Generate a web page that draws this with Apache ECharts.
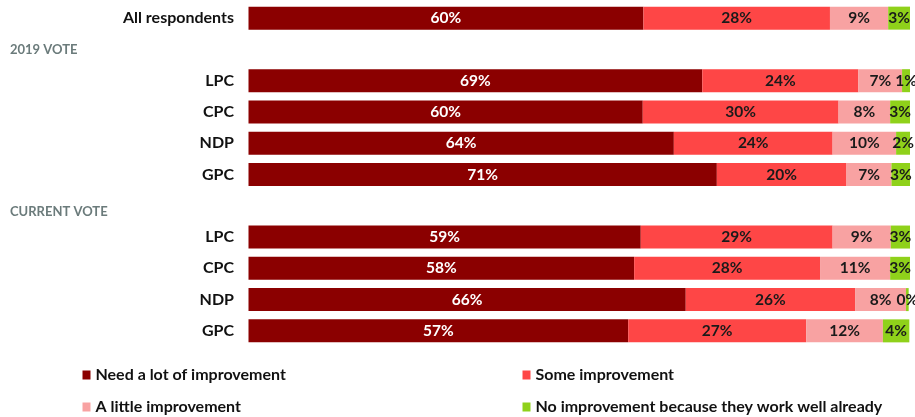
<!DOCTYPE html>
<html>
<head>
<meta charset="utf-8">
<script src="https://cdn.jsdelivr.net/npm/echarts@6/dist/echarts.min.js"></script>
<style>
html,body{margin:0;padding:0;background:#fff;}
#chart{width:915px;height:417px;}
</style>
</head>
<body>
<div id="chart"></div>
<script>
// Categories (headers are rows with no bars)
const categories = ['All respondents', '2019 VOTE', 'LPC', 'CPC', 'NDP', 'GPC', 'CURRENT VOTE', 'LPC', 'CPC', 'NDP', 'GPC'];
const headerRows = ['2019 VOTE', 'CURRENT VOTE'];
const seriesNames = ['Need a lot of improvement', 'Some improvement', 'A little improvement', 'No improvement because they work well already'];
// values (%); '-' = header row
const needALot   = [59.7, '-', 68.6, 59.6, 64.3, 70.8, '-', 59.3, 58.3, 66.1, 57.4];
const someImpr   = [28.2, '-', 23.6, 29.6, 24.0, 19.6, '-', 29.0, 28.1, 25.6, 26.9];
const littleImpr = [8.8,  '-', 6.6,  7.8,  9.6,  6.8,  '-', 8.8,  10.6, 7.7,  11.6];
const noImpr     = [3.3,  '-', 1.2,  3.0,  2.1,  2.9,  '-', 2.9,  3.1,  0.4,  4.0];

const colors = ['#8b0000', '#fe4646', '#f8a2a2', '#8fd11a'];
const labelColors = ['#ffffff', '#1a1a1a', '#1a1a1a', '#1a1a1a'];
const FONT = 'Lato, "Open Sans", sans-serif';

const chart = echarts.init(document.getElementById('chart'), null, {renderer: 'canvas'});

const allData = [needALot, someImpr, littleImpr, noImpr];
const series = allData.map((d, i) => ({
  name: seriesNames[i],
  type: 'bar',
  stack: 'total',
  data: d,
  barWidth: 23,
  itemStyle: {color: colors[i]},
  label: {
    show: true,
    position: 'inside',
    color: labelColors[i],
    fontFamily: FONT,
    fontWeight: 'bold',
    fontSize: 15.5,
    formatter: p => Math.round(p.value) + '%'
  },
  emphasis: {disabled: true}
}));

// legend key (2 columns x 2 rows), built from seriesNames/colors
const keyPos = [[82.5, 375], [522.5, 375], [82.5, 407], [522.5, 407]]; // [icon left, row centre]
const keyElems = [];
seriesNames.forEach((n, i) => {
  keyElems.push({
    type: 'rect', silent: true,
    shape: {x: keyPos[i][0], y: keyPos[i][1] - 4.5, width: 8, height: 9},
    style: {fill: colors[i]}
  });
  keyElems.push({
    type: 'text', silent: true,
    x: keyPos[i][0] + 13, y: keyPos[i][1],
    style: {text: n, fill: '#111111', font: 'bold 16px ' + FONT, verticalAlign: 'middle', align: 'left'}
  });
});

chart.setOption({
  animation: false,
  backgroundColor: '#ffffff',
  grid: {left: 248.5, right: 5, top: 2.5, height: 344, containLabel: false},
  xAxis: {
    type: 'value', min: 0, max: 100, show: false
  },
  yAxis: {
    type: 'category',
    data: categories,
    inverse: true,
    axisLine: {show: false},
    axisTick: {show: false},
    splitLine: {show: false},
    axisLabel: {
      margin: 14.5,
      formatter: function (v) {
        if (v === 'CURRENT VOTE') return '{h2|' + v + '}';
        if (headerRows.indexOf(v) >= 0) return '{h|' + v + '}';
        return '{c|' + v + '}';
      },
      rich: {
        c: {width: 224, align: 'right', fontFamily: FONT, fontWeight: 'bold', fontSize: 16, color: '#111111'},
        h: {width: 224, align: 'left', fontFamily: FONT, fontWeight: 'bold', fontSize: 13, color: '#6b7b7b'},
        h2: {width: 224, align: 'left', fontFamily: FONT, fontWeight: 'bold', fontSize: 13, color: '#6b7b7b', padding: [12, 0, 0, 0]}
      }
    }
  },
  legend: {show: false, data: seriesNames},
  graphic: {elements: keyElems},
  series: series
});
</script>
</body>
</html>
